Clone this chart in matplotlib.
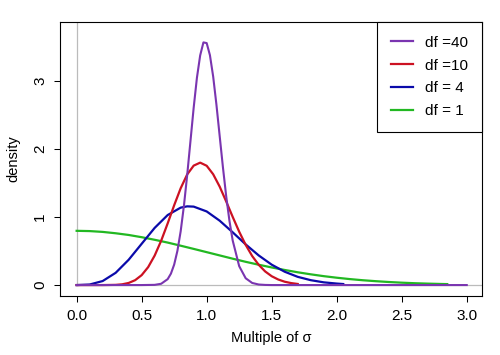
import numpy as np
import matplotlib
matplotlib.use('Agg')
import matplotlib.pyplot as plt

plt.rcParams['font.family'] = ['Liberation Sans', 'DejaVu Sans']

# values (x = multiple of sigma, y = density)
x_df1 = [0.0, 0.1, 0.2, 0.3, 0.4, 0.5, 0.6, 0.7, 0.8, 0.9, 1.0, 1.1, 1.2, 1.3, 1.4,
         1.5, 1.6, 1.7, 1.8, 1.9, 2.0, 2.1, 2.2, 2.3, 2.4, 2.5, 2.6, 2.7, 2.8, 2.85]
y_df1 = [0.798, 0.794, 0.782, 0.762, 0.737, 0.704, 0.666, 0.625, 0.579, 0.532, 0.484,
         0.436, 0.388, 0.342, 0.299, 0.259, 0.222, 0.188, 0.158, 0.131, 0.108, 0.088,
         0.071, 0.057, 0.045, 0.035, 0.027, 0.021, 0.016, 0.014]

x_df4 = [0.0, 0.1, 0.2, 0.3, 0.4, 0.5, 0.6, 0.7, 0.8, 0.85, 0.9, 1.0, 1.1, 1.2, 1.3,
         1.4, 1.5, 1.6, 1.7, 1.8, 1.9, 2.0, 2.05]
y_df4 = [0.0, 0.008, 0.059, 0.180, 0.372, 0.607, 0.841, 1.030, 1.139, 1.158, 1.154,
         1.083, 0.947, 0.776, 0.598, 0.436, 0.300, 0.196, 0.121, 0.072, 0.040, 0.022,
         0.015]

x_df10 = [0.0, 0.2, 0.3, 0.35, 0.4, 0.45, 0.5, 0.55, 0.6, 0.65, 0.7, 0.75, 0.8, 0.85,
          0.9, 0.95, 1.0, 1.05, 1.1, 1.15, 1.2, 1.25, 1.3, 1.35, 1.4, 1.45, 1.5, 1.55,
          1.6, 1.65, 1.7]
y_df10 = [0.0, 0.0, 0.003, 0.011, 0.031, 0.072, 0.146, 0.264, 0.434, 0.652, 0.907,
          1.174, 1.424, 1.627, 1.757, 1.801, 1.755, 1.630, 1.448, 1.230, 1.003, 0.785,
          0.591, 0.427, 0.298, 0.200, 0.130, 0.082, 0.049, 0.029, 0.016]

x_df40 = [0.0, 0.5, 0.6, 0.65, 0.7, 0.725, 0.75, 0.775, 0.8, 0.825, 0.85, 0.875, 0.9,
          0.925, 0.95, 0.975, 1.0, 1.025, 1.05, 1.075, 1.1, 1.125, 1.15, 1.175, 1.2,
          1.25, 1.3, 1.35, 1.4, 1.45, 1.5, 2.0, 2.5, 3.0]
y_df40 = [0.0, 0.0, 0.003, 0.019, 0.087, 0.168, 0.301, 0.504, 0.791, 1.166, 1.616,
          2.112, 2.609, 3.050, 3.379, 3.570, 3.560, 3.382, 3.067, 2.654, 2.192, 1.732,
          1.308, 0.946, 0.656, 0.278, 0.100, 0.031, 0.008, 0.002, 0.0, 0.0, 0.0, 0.0]

labels = ['df =40', 'df =10', 'df = 4', 'df = 1']
colors = {'df =40': '#7A35B0', 'df =10': '#CC1122', 'df = 4': '#0A0AAA', 'df = 1': '#22B822'}

fig = plt.figure(figsize=(5, 3.55), dpi=100)
ax = fig.add_axes([0.12, 0.166, 0.8434, 0.772])

ax.plot([0, 0], [0, 4], color='#BBBBBB', lw=0.9, zorder=1)
ax.plot([0, 4], [0, 0], color='#BBBBBB', lw=0.9, zorder=1)

ax.plot(x_df1, y_df1, color=colors['df = 1'], lw=1.6, zorder=2)
ax.plot(x_df4, y_df4, color=colors['df = 4'], lw=1.6, zorder=3)
ax.plot(x_df10, y_df10, color=colors['df =10'], lw=1.6, zorder=4)
ax.plot(x_df40, y_df40, color=colors['df =40'], lw=1.5, zorder=5)

ax.set_xlim(-0.128, 3.115)
ax.set_ylim(-0.162, 3.87)
ax.set_xticks([0.0, 0.5, 1.0, 1.5, 2.0, 2.5, 3.0])
ax.set_xticklabels(['0.0', '0.5', '1.0', '1.5', '2.0', '2.5', '3.0'])
ax.set_yticks([0, 1, 2, 3])
ax.tick_params(length=4.3, width=0.75, labelsize=11, pad=5.0, color='black')
for t in ax.get_yticklabels():
    t.set_rotation(90)
    t.set_va('center')
for s in ax.spines.values():
    s.set_linewidth(0.8)
    s.set_color('black')

ax.set_xlabel('Multiple of σ', fontsize=10.5, labelpad=6)
ax.set_ylabel('density', fontsize=10.5, labelpad=9)

handles = [plt.Line2D([], [], color=colors[l], lw=1.6) for l in labels]
leg = ax.legend(handles, labels, loc='upper right', bbox_to_anchor=(1, 1),
                borderaxespad=0, fancybox=False, framealpha=1, edgecolor='black',
                fontsize=11, handlelength=1.45, handletextpad=0.8, labelspacing=0.58,
                borderpad=0.9)
leg.get_frame().set_linewidth(0.8)

fig.savefig('out.png', dpi=100)
